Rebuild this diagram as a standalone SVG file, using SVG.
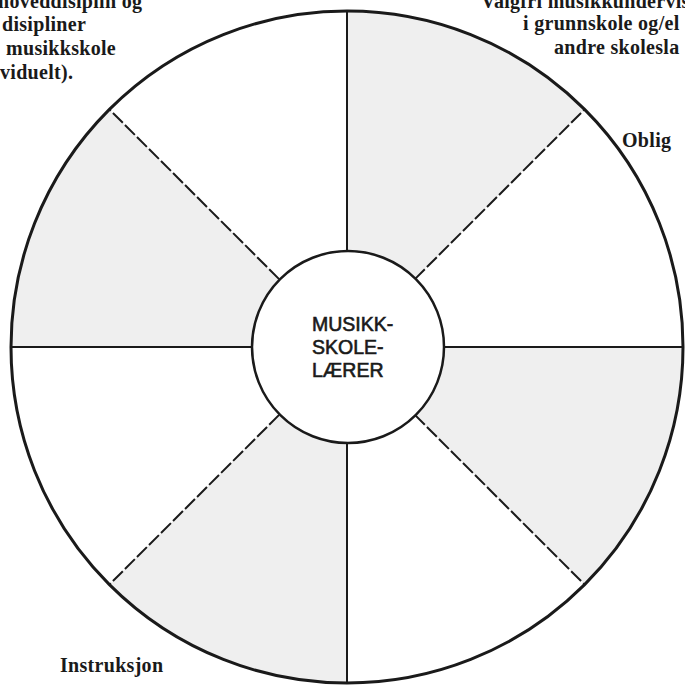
<svg xmlns="http://www.w3.org/2000/svg" width="685" height="685" viewBox="0 0 685 685">
<style>
.shade{fill:#efefef;stroke:none}
.div{stroke:#1a1a1a;stroke-width:2;fill:none}
.dash{stroke-dasharray:14 3}
.lbl{font-family:"Liberation Serif","Times New Roman",serif;font-weight:bold;font-size:20px;letter-spacing:0.3px;fill:#1a1a1a}
.ctr{font-family:"Liberation Sans",Arial,sans-serif;font-size:19.5px;fill:#1a1a1a;stroke:#1a1a1a;stroke-width:0.6}
</style>
<rect width="685" height="685" fill="#ffffff"/>
<g id="sectors">
<path class="shade" d="M347,347 L347,11 A336,336 0 0 1 584.6,109.4 Z"/>
<path class="shade" d="M347,347 L683,347 A336,336 0 0 1 584.6,584.6 Z"/>
<path class="shade" d="M347,347 L347,683 A336,336 0 0 1 109.4,584.6 Z"/>
<path class="shade" d="M347,347 L11,347 A336,336 0 0 1 109.4,109.4 Z"/>
</g>
<g id="connectors">
<line class="div" x1="347" y1="11" x2="347" y2="251"/>
<line class="div" x1="347" y1="443" x2="347" y2="683"/>
<line class="div" x1="11" y1="347" x2="251" y2="347"/>
<line class="div" x1="443" y1="347" x2="683" y2="347"/>
<line class="div dash" x1="414.9" y1="279.1" x2="584.6" y2="109.4"/>
<line class="div dash" x1="414.9" y1="414.9" x2="584.6" y2="584.6"/>
<line class="div dash" x1="279.1" y1="414.9" x2="109.4" y2="584.6"/>
<line class="div dash" x1="279.1" y1="279.1" x2="109.4" y2="109.4"/>
</g>
<g id="outer">
<circle cx="347" cy="347" r="336" fill="none" stroke="#1a1a1a" stroke-width="3"/>
</g>
<g id="center">
<circle cx="348" cy="347" r="96" fill="#ffffff" stroke="#1a1a1a" stroke-width="2.5"/>
<text class="ctr" x="312" y="331">MUSIKK-</text>
<text class="ctr" x="312" y="354">SKOLE-</text>
<text class="ctr" x="312" y="377">LÆRER</text>
</g>
<g id="label-topleft">
<text class="lbl" x="-2" y="8">hoveddisiplin og</text>
<text class="lbl" x="2" y="31">disipliner</text>
<text class="lbl" x="6" y="55">musikkskole</text>
<text class="lbl" x="0" y="79">viduelt).</text>
</g>
<g id="label-topright">
<text class="lbl" x="481" y="8">Valgfri musikkundervis</text>
<text class="lbl" x="523" y="30">i grunnskole og/el</text>
<text class="lbl" x="554" y="54">andre skolesla</text>
</g>
<g id="label-right">
<text class="lbl" x="622" y="147">Oblig</text>
</g>
<g id="label-bottomleft">
<text class="lbl" x="60" y="672">Instruksjon</text>
</g>
</svg>
